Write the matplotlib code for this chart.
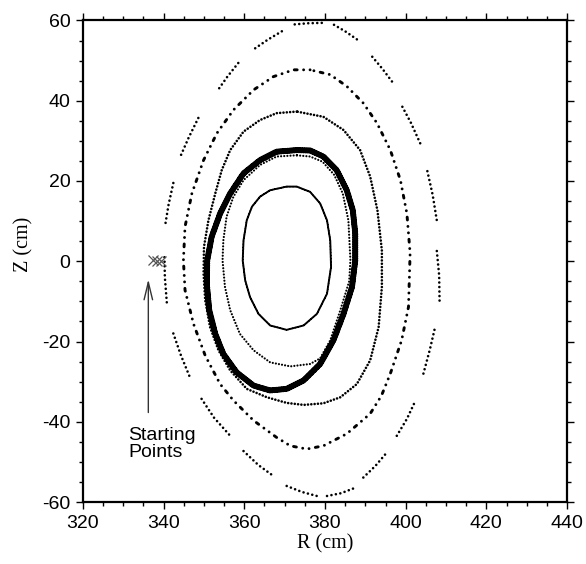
import numpy as np
import matplotlib
matplotlib.use("Agg")
import matplotlib.pyplot as plt
from matplotlib.ticker import MultipleLocator

plt.rcParams["font.family"] = ["Liberation Sans", "DejaVu Sans"]
plt.rcParams["axes.unicode_minus"] = False

# Flux surfaces (R, Z in cm)
# innermost surface
ring_a_r = [370.5, 366.4, 363.9, 361.9, 360.6, 359.8, 359.6, 360.2, 361.4, 363.5, 366.4, 370.5,
            374.7, 378.0, 380.5, 381.5, 381.3, 380.5, 378.8, 376.3, 373.0, 370.5]
ring_a_z = [18.6, 17.7, 16.1, 13.6, 10.2, 5.2, 0.2, -4.7, -8.9, -13.1, -16.0, -17.1,
            -16.0, -13.1, -8.1, -1.4, 5.2, 10.2, 14.4, 17.3, 18.6, 18.6]

# thin surface just inside the thick one
ring_c2_r = [373.0, 368.0, 363.9, 359.8, 357.3, 355.6, 354.8, 354.6, 355.2, 356.5, 358.9, 362.3,
             366.4, 371.4, 376.3, 378.8, 381.3, 383.8, 386.0, 386.3, 385.8, 384.4, 382.3, 379.4,
             376.3, 373.0]
ring_c2_z = [26.4, 26.1, 24.0, 20.2, 16.1, 11.1, 5.2, 0.2, -6.4, -12.2, -18.1, -22.2,
             -25.2, -26.2, -25.6, -24.2, -19.7, -12.2, -5.0, 0.2, 10.2, 16.9, 21.5, 24.8,
             26.1, 26.4]

# thick surface
ring_b_r = [373.0, 368.0, 363.9, 359.8, 356.5, 354.0, 351.9, 350.8, 350.7, 351.3, 352.8, 354.8,
            358.1, 362.3, 366.4, 370.5, 374.7, 378.8, 382.1, 384.6, 386.7, 387.5, 387.5, 386.9,
            385.4, 382.9, 379.6, 376.3, 373.0]
ring_b_z = [27.7, 27.3, 25.2, 21.9, 16.9, 11.9, 6.1, 0.2, -5.6, -12.2, -18.1, -23.1,
            -27.7, -31.0, -32.2, -31.8, -29.7, -25.6, -19.7, -13.1, -6.4, 0.2, 6.9, 12.7,
            17.7, 22.7, 26.1, 27.6, 27.7]

# dotted surface outside the thick one
ring_c_r = [373.0, 368.0, 363.9, 359.8, 356.5, 354.4, 352.8, 351.1, 350.0, 349.9, 350.3, 351.5,
            353.6, 356.5, 360.6, 365.6, 370.5, 374.7, 379.6, 383.8, 387.9, 391.2, 393.3, 394.1,
            394.1, 393.0, 391.2, 388.7, 384.6, 379.6, 373.0]
ring_c_z = [37.3, 36.9, 35.2, 32.3, 27.7, 22.7, 16.9, 10.2, 3.6, -3.1, -9.7, -16.4,
            -22.2, -27.2, -31.8, -33.9, -35.3, -35.8, -35.4, -33.9, -30.6, -24.7, -16.4, -6.4,
            2.7, 12.7, 21.1, 27.7, 32.7, 36.0, 37.3]

# broken surface
ring_d_r = [376.3, 372.2, 367.2, 362.3, 357.3, 353.2, 349.9, 347.0, 345.3, 344.9, 345.3, 347.4,
            350.3, 354.0, 357.3, 362.3, 368.0, 371.4, 375.5, 379.6, 385.4, 391.2, 394.0, 396.2,
            399.0, 400.7, 401.1, 400.3, 398.7, 396.2, 392.9, 389.5, 385.4, 381.3, 376.3]
ring_d_z = [47.7, 47.7, 46.0, 42.7, 37.7, 31.9, 25.2, 16.9, 8.6, 0.2, -7.2, -15.6,
            -23.5, -30.6, -34.7, -39.7, -43.9, -46.0, -46.8, -46.0, -43.0, -38.0, -33.5, -28.0,
            -19.7, -11.4, 2.0, 11.9, 20.2, 27.7, 34.4, 39.4, 43.6, 46.5, 47.7]

# outermost surface, arcs separated by gaps
nan = np.nan
ring_e_r = [342.4, 341.2, 340.3, nan, 340.2, 340.3, 340.8, nan, 342.4, 344.3, 346.5, nan,
            349.4, 352.5, 356.5, nan, 359.8, 363.5, 367.2, nan, 370.5, 374.3, 378.0, nan,
            380.5, 384.0, 387.1, nan, 389.5, 392.5, 395.3, nan, 397.8, 400.3, 402.4, nan,
            404.4, 406.0, 407.3, nan, 408.4, 408.3, 407.7, nan, 407.7, 406.7, 405.3, nan,
            403.6, 401.3, 398.7, nan, 396.6, 394.2, 391.6, nan, 387.9, 385.0, 382.1, nan,
            379.2, 375.7, 372.2, nan, 369.3, 365.8, 362.3, nan, 358.5, 355.8, 353.2, nan,
            348.6, 346.2, 344.1]
ring_e_z = [19.5, 14.0, 8.5, nan, 1.0, -4.0, -10.5, nan, -18.0, -23.5, -28.9, nan,
            -34.3, -39.0, -43.5, nan, -47.3, -50.8, -53.5, nan, -56.0, -57.5, -58.5, nan,
            -58.5, -57.8, -56.6, nan, -53.9, -51.0, -47.7, nan, -43.5, -39.3, -34.8, nan,
            -28.0, -22.0, -16.4, nan, -9.8, -3.5, 2.8, nan, 10.3, 16.5, 22.8, nan,
            29.4, 34.5, 39.4, nan, 44.8, 48.0, 51.1, nan, 55.3, 57.3, 59.0, nan,
            59.4, 59.3, 59.0, nan, 57.3, 55.2, 52.8, nan, 49.4, 46.0, 42.3, nan,
            35.7, 30.8, 26.0]

start_r = [337.4, 338.3, 339.3]
start_z = [0.2, 0.0, 0.1]

fig = plt.figure(figsize=(5.86, 5.64), dpi=100)
ax = fig.add_axes([0.1416, 0.1099, 0.826, 0.8538])

dot = dict(color="black", solid_capstyle="round", dash_capstyle="round",
           solid_joinstyle="round", dash_joinstyle="round")
ax.plot(ring_a_r, ring_a_z, lw=1.4, linestyle=(0, (1.2, 0.4)), **dot)
ax.plot(ring_c2_r, ring_c2_z, lw=1.6, linestyle=(0, (0.01, 1.4)), **dot)
ax.plot(ring_b_r, ring_b_z, lw=4.4, linestyle=(0, (0.01, 0.35)), **dot)
ax.plot(ring_c_r, ring_c_z, lw=1.9, linestyle=(0, (0.01, 1.25)), **dot)
ax.plot(ring_d_r, ring_d_z, lw=2.1, linestyle=(0, (0.01, 2.2, 0.01, 2.2, 1.0, 2.2)), **dot)
ax.plot(ring_e_r, ring_e_z, lw=1.9, linestyle=(0, (0.01, 1.7)), **dot)

ax.plot(start_r, start_z, "x", color="#555555", markersize=7.5, markeredgewidth=0.9)

ax.annotate("", xy=(336.2, -4.5), xytext=(336.2, -37.7),
            arrowprops=dict(arrowstyle="->,head_length=0.7,head_width=0.17",
                            color="#333333", lw=1.0, mutation_scale=18,
                            shrinkA=0, shrinkB=0))
ax.text(331.2, -41.3, "Starting\nPoints", fontsize=14, ha="left", va="top", linespacing=1.0)

ax.set_xlim(320, 440)
ax.set_ylim(-60, 60)
ax.xaxis.set_major_locator(MultipleLocator(20))
ax.yaxis.set_major_locator(MultipleLocator(20))
ax.xaxis.set_minor_locator(MultipleLocator(5))
ax.yaxis.set_minor_locator(MultipleLocator(5))
ax.tick_params(which="both", direction="out", top=True, right=True, width=1.0)
ax.tick_params(which="major", length=5, labelsize=14)
ax.tick_params(which="minor", length=3)
ax.tick_params(axis="x", which="major", pad=4)
ax.tick_params(axis="y", which="major", pad=4)
for s in ax.spines.values():
    s.set_linewidth(1.6)

ax.set_xlabel("R (cm)", family="Liberation Serif", fontsize=14.5)
ax.set_ylabel("Z (cm)", family="Liberation Serif", fontsize=14.5)
ax.xaxis.set_label_coords(0.5, -0.066)
ax.yaxis.set_label_coords(-0.103, 0.534)

fig.savefig("out.png", dpi=100)
